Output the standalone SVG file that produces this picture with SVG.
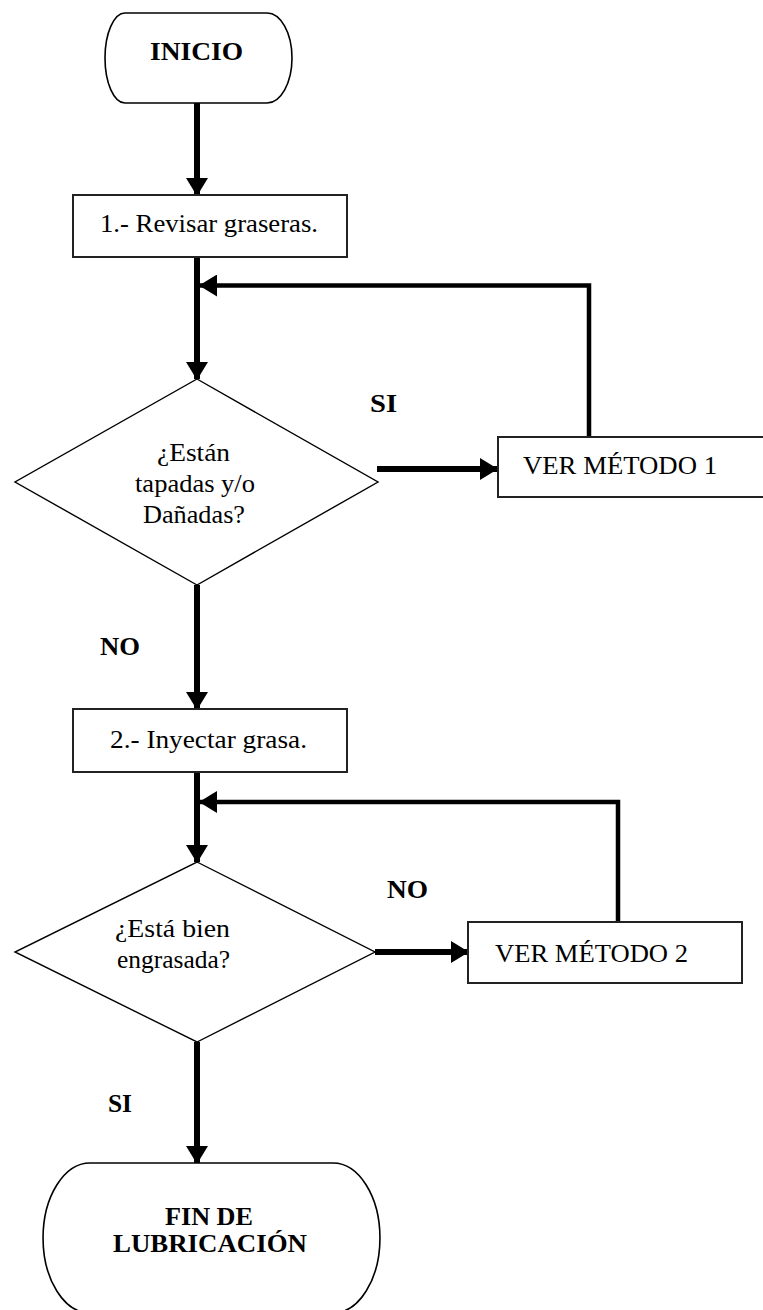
<svg xmlns="http://www.w3.org/2000/svg" width="763" height="1310" viewBox="0 0 763 1310">
  <style>
    .txt { font-family: "Liberation Serif", "Times New Roman", serif; font-size: 25px; fill: #000; }
    .bold { font-weight: bold; }
    .term { fill: #fff; stroke: #000; stroke-width: 1.6; }
    .box { fill: #fff; stroke: #222; stroke-width: 2; }
    .dec { fill: #fff; stroke: #000; stroke-width: 1.4; }
    .flow { fill: none; stroke: #000; stroke-width: 6; }
    .back { fill: none; stroke: #000; stroke-width: 4.5; }
  </style>
  <defs>
    <marker id="head" viewBox="0 0 18 22" refX="17" refY="11" markerWidth="18" markerHeight="22" markerUnits="userSpaceOnUse" orient="auto">
      <path d="M0,0 L18,11 L0,22 Z" fill="#000"/>
    </marker>
  </defs>
  <rect width="763" height="1310" fill="#fff"/>

  <!-- connectors -->
  <g id="connectors">
    <line class="flow" x1="197" y1="103" x2="197" y2="195" marker-end="url(#head)"/>
    <line class="flow" x1="197" y1="257" x2="197" y2="379" marker-end="url(#head)"/>
    <polyline class="back" points="589,437 589,285.5 200,285.5" marker-end="url(#head)"/>
    <line class="flow" x1="377" y1="469" x2="497" y2="469" marker-end="url(#head)"/>
    <line class="flow" x1="197" y1="585" x2="197" y2="709" marker-end="url(#head)"/>
    <line class="flow" x1="197" y1="772" x2="197" y2="862" marker-end="url(#head)"/>
    <polyline class="back" points="618,922 618,802 200,802" marker-end="url(#head)"/>
    <line class="flow" x1="375" y1="952" x2="468" y2="952" marker-end="url(#head)"/>
    <line class="flow" x1="197" y1="1042" x2="197" y2="1163" marker-end="url(#head)"/>
  </g>

  <!-- start -->
  <g id="inicio">
    <path class="term" d="M125,13 H267 A25,45 0 0 1 267,103 H125 A20,45 0 0 1 125,13 Z"/>
    <text class="txt bold" x="150" y="60" textLength="93" lengthAdjust="spacingAndGlyphs">INICIO</text>
  </g>

  <!-- step 1 -->
  <g id="revisar">
    <rect class="box" x="73" y="195" width="274" height="62"/>
    <text class="txt" x="100" y="232" textLength="218" lengthAdjust="spacingAndGlyphs">1.- Revisar graseras.</text>
  </g>

  <!-- decision 1 -->
  <g id="tapadas">
    <polygon class="dec" points="197,379 378,482 197,585 15,482"/>
    <text class="txt" x="157" y="461" textLength="73" lengthAdjust="spacingAndGlyphs">¿Están</text>
    <text class="txt" x="135" y="492" textLength="120" lengthAdjust="spacingAndGlyphs">tapadas y/o</text>
    <text class="txt" x="143" y="523" textLength="102" lengthAdjust="spacingAndGlyphs">Dañadas?</text>
  </g>

  <text id="lbl-si-1" class="txt bold" x="370" y="412" textLength="27" lengthAdjust="spacingAndGlyphs">SI</text>

  <!-- method 1 -->
  <g id="metodo1">
    <rect class="box" x="498" y="437" width="280" height="60"/>
    <text class="txt" x="523" y="474" textLength="194" lengthAdjust="spacingAndGlyphs">VER MÉTODO 1</text>
  </g>

  <text id="lbl-no-1" class="txt bold" x="100" y="655" textLength="40" lengthAdjust="spacingAndGlyphs">NO</text>

  <!-- step 2 -->
  <g id="inyectar">
    <rect class="box" x="73" y="709" width="274" height="63"/>
    <text class="txt" x="110" y="748" textLength="197" lengthAdjust="spacingAndGlyphs">2.- Inyectar grasa.</text>
  </g>

  <!-- decision 2 -->
  <g id="engrasada">
    <polygon class="dec" points="197,862 375,952 197,1042 15,952"/>
    <text class="txt" x="115" y="937" textLength="115" lengthAdjust="spacingAndGlyphs">¿Está bien</text>
    <text class="txt" x="117" y="968" textLength="113" lengthAdjust="spacingAndGlyphs">engrasada?</text>
  </g>

  <text id="lbl-no-2" class="txt bold" x="387" y="898" textLength="41" lengthAdjust="spacingAndGlyphs">NO</text>

  <!-- method 2 -->
  <g id="metodo2">
    <rect class="box" x="468" y="922" width="274" height="61"/>
    <text class="txt" x="495" y="962" textLength="193" lengthAdjust="spacingAndGlyphs">VER MÉTODO 2</text>
  </g>

  <text id="lbl-si-2" class="txt bold" x="108" y="1112" textLength="24" lengthAdjust="spacingAndGlyphs">SI</text>

  <!-- end -->
  <g id="fin">
    <path class="term" d="M90,1163 H333 A47,75 0 0 1 333,1313 H90 A47,75 0 0 1 90,1163 Z"/>
    <text class="txt bold" x="165" y="1225" textLength="88" lengthAdjust="spacingAndGlyphs">FIN DE</text>
    <text class="txt bold" x="113" y="1252" textLength="194" lengthAdjust="spacingAndGlyphs">LUBRICACIÓN</text>
  </g>
</svg>
